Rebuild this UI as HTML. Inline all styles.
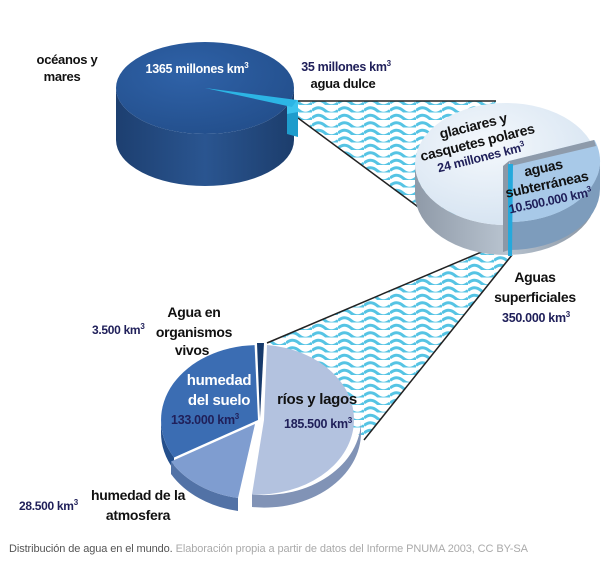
<!DOCTYPE html>
<html><head><meta charset="utf-8"><style>
html,body{margin:0;padding:0;background:#fff;width:608px;height:566px;overflow:hidden}
svg{display:block}
text{font-family:"Liberation Sans",sans-serif;font-weight:bold;letter-spacing:-0.3px}
</style></head><body>
<svg width="608" height="566" viewBox="0 0 608 566">
<defs>
<pattern id="wv" width="26" height="7.5" patternUnits="userSpaceOnUse">
<rect width="26" height="7.5" fill="#fff"/>
<path d="M0,5.5 Q6.5,0 13,5.5 T26,5.5" fill="none" stroke="#56c4e4" stroke-width="3"/>
</pattern>
<radialGradient id="g1" cx="0.4" cy="0.35" r="0.7"><stop offset="0" stop-color="#2f62a8"/><stop offset="1" stop-color="#234f8c"/></radialGradient>
<linearGradient id="s1" x1="0" x2="1"><stop offset="0" stop-color="#1d3f70"/><stop offset="0.5" stop-color="#2a5590"/><stop offset="1" stop-color="#1c3d6c"/></linearGradient>
<radialGradient id="g2" cx="0.4" cy="0.35" r="0.7"><stop offset="0" stop-color="#f4f8fc"/><stop offset="1" stop-color="#d5e3f1"/></radialGradient>
<linearGradient id="s2" x1="0" x2="1"><stop offset="0" stop-color="#8f9aa8"/><stop offset="0.5" stop-color="#b8c3cf"/><stop offset="1" stop-color="#8894a2"/></linearGradient>
</defs>

<polygon points="298,101 496,101 450,232 298,118" fill="url(#wv)"/>
<line x1="298" y1="101" x2="496" y2="101" stroke="#222" stroke-width="1.5"/>
<line x1="298" y1="118" x2="452" y2="232" stroke="#222" stroke-width="1.5"/>
<polygon points="505,242 267,343 364,440 512,255" fill="url(#wv)"/>
<line x1="505" y1="242" x2="267" y2="343" stroke="#222" stroke-width="1.5"/>
<line x1="512" y1="255" x2="364" y2="440" stroke="#222" stroke-width="1.5"/>

<path d="M116,88 A89,46 0 0 0 294,88 L294,140 A89,46 0 0 1 116,140 Z" fill="url(#s1)"/>
<ellipse cx="205" cy="88" rx="89" ry="46" fill="url(#g1)"/>
<polygon points="287,103 298,100 298,137 287,134" fill="#1e9ccc"/>
<polygon points="287,103 298,100 298,112 287,114" fill="#3cc3ee"/>
<polygon points="205,88 297,100 292,107" fill="#2cb5e5"/>

<path d="M415,164 A91,61 0 0 0 597,164 L597,194 A91,61 0 0 1 415,194 Z" fill="url(#s2)"/>
<ellipse cx="506" cy="164" rx="91" ry="61" fill="url(#g2)"/>
<path d="M600,161 A91,61 0 0 1 509,222 L509,250 A91,61 0 0 0 600,189 Z" fill="#7d9cbc"/>
<polygon points="503,166 509,161 509,250 503,252" fill="#8c98a6"/>
<path d="M509,161 L594.5,140 A91,61 0 0 1 509,222 Z" fill="#a8c9e8"/>
<polygon points="509,161 594,140 596,146 511,166" fill="#8e9bab"/>
<polygon points="508,164 513,164 512,256 508,256" fill="#25a9dc"/>

<path d="M361,420 A97,75 0 0 1 252,494.5 L252,507 A97,75 0 0 0 361,432 Z" fill="#8193b6"/>
<path d="M264,420 L267,345 A97,75 0 0 1 252,494.5 Z" fill="#b3c2df"/>
<path d="M161,420 A97,75 0 0 0 174,457.5 L174,470 A97,75 0 0 1 161,432 Z" fill="#244f8c"/>
<path d="M258,420 L174,457.5 A97,75 0 0 1 254.6,345.1 Z" fill="#3b6db3"/>
<path d="M238,498 A97,75 0 0 1 171,461.5 L171,474 A97,75 0 0 0 238,511 Z" fill="#5272a6"/>
<path d="M255,424 L238,498 A97,75 0 0 1 171,461.5 Z" fill="#7f9dd0"/>
<polygon points="260,418 257,343 264,343" fill="#173a6c"/>

<g font-size="13" fill="#111">
<text x="67" y="64" text-anchor="middle">océanos y</text>
<text x="62" y="81" text-anchor="middle">mares</text>
</g>
<text x="197" y="73" font-size="12.5" fill="#fff" text-anchor="middle">1365 millones km<tspan font-size="8" dy="-5">3</tspan></text>
<text x="346" y="71" font-size="12.5" fill="#20205a" text-anchor="middle">35 millones km<tspan font-size="8" dy="-5">3</tspan></text>
<text x="343" y="88" font-size="13" fill="#111" text-anchor="middle">agua dulce</text>

<g transform="rotate(-14 478 145)" text-anchor="middle" font-size="14" fill="#111">
<text x="478" y="130">glaciares y</text>
<text x="478" y="147">casquetes polares</text>
<text x="478" y="162" font-size="12.5" fill="#20205a">24 millones km<tspan font-size="8" dy="-5">3</tspan></text>
</g>
<g transform="rotate(-12 548 190)" text-anchor="middle" font-size="14" fill="#111">
<text x="548" y="172">aguas</text>
<text x="548" y="189">subterráneas</text>
<text x="548" y="205" font-size="12.5" fill="#20205a">10.500.000 km<tspan font-size="8" dy="-5">3</tspan></text>
</g>

<g text-anchor="middle" font-size="14" fill="#111">
<text x="535" y="282">Aguas</text>
<text x="535" y="302">superficiales</text>
<text x="536" y="322" font-size="12.5" fill="#20205a">350.000 km<tspan font-size="8" dy="-5">3</tspan></text>
<text x="194" y="317">Agua en</text>
<text x="194" y="337">organismos</text>
<text x="192" y="355">vivos</text>
<text x="219" y="385" fill="#fff" font-size="15">humedad</text>
<text x="219" y="405" fill="#fff" font-size="15">del suelo</text>
<text x="205" y="424" font-size="12.5" fill="#20205a">133.000 km<tspan font-size="8" dy="-5">3</tspan></text>
<text x="317" y="404" font-size="15">ríos y lagos</text>
<text x="318" y="428" font-size="12.5" fill="#20205a">185.500 km<tspan font-size="8" dy="-5">3</tspan></text>
<text x="138" y="500">humedad de la</text>
<text x="138" y="520">atmosfera</text>
</g>
<text x="92" y="334" font-size="12" fill="#20205a">3.500 km<tspan font-size="8" dy="-5">3</tspan></text>
<text x="19" y="510" font-size="12" fill="#20205a">28.500 km<tspan font-size="8" dy="-5">3</tspan></text>

<text x="9" y="552" font-size="11" style="font-weight:normal;letter-spacing:-0.1px" fill="#555">Distribución de agua en el mundo. <tspan fill="#aaa">Elaboración propia a partir de datos del Informe PNUMA 2003, CC BY-SA</tspan></text>
</svg>
</body></html>
